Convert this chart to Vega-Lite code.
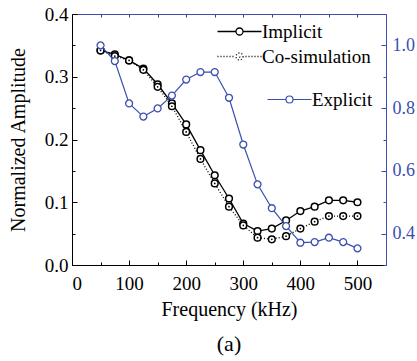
{
  "$schema": "https://vega.github.io/schema/vega-lite/v6.json",
  "width": 314,
  "height": 251,
  "autosize": {"type": "none"},
  "padding": {"left": 72, "top": 14, "right": 31, "bottom": 96},
  "background": "white",
  "config": {
    "view": {"stroke": null},
    "font": "Liberation Serif",
    "axis": {"grid": false, "labelFont": "Liberation Serif", "titleFont": "Liberation Serif"},
    "style": {"guide-label": {"font": "Liberation Serif"}, "guide-title": {"font": "Liberation Serif"}}
  },
  "title": {"text": "(a)", "orient": "bottom", "font": "Liberation Serif", "fontSize": 22, "fontWeight": "normal", "color": "black", "offset": 15},
  "datasets": {
    "d": [
      {"f": 50, "series": "Implicit", "v": 0.342},
      {"f": 75, "series": "Implicit", "v": 0.3355},
      {"f": 100, "series": "Implicit", "v": 0.326},
      {"f": 125, "series": "Implicit", "v": 0.313},
      {"f": 150, "series": "Implicit", "v": 0.288},
      {"f": 175, "series": "Implicit", "v": 0.2575},
      {"f": 200, "series": "Implicit", "v": 0.224},
      {"f": 225, "series": "Implicit", "v": 0.183},
      {"f": 250, "series": "Implicit", "v": 0.143},
      {"f": 275, "series": "Implicit", "v": 0.106},
      {"f": 300, "series": "Implicit", "v": 0.066},
      {"f": 325, "series": "Implicit", "v": 0.054},
      {"f": 350, "series": "Implicit", "v": 0.058},
      {"f": 375, "series": "Implicit", "v": 0.071},
      {"f": 400, "series": "Implicit", "v": 0.086},
      {"f": 425, "series": "Implicit", "v": 0.093},
      {"f": 450, "series": "Implicit", "v": 0.103},
      {"f": 475, "series": "Implicit", "v": 0.103},
      {"f": 500, "series": "Implicit", "v": 0.1},
      {"f": 50, "series": "Co-simulation", "v": 0.342},
      {"f": 75, "series": "Co-simulation", "v": 0.333},
      {"f": 100, "series": "Co-simulation", "v": 0.326},
      {"f": 125, "series": "Co-simulation", "v": 0.311},
      {"f": 150, "series": "Co-simulation", "v": 0.284},
      {"f": 175, "series": "Co-simulation", "v": 0.253},
      {"f": 200, "series": "Co-simulation", "v": 0.212},
      {"f": 225, "series": "Co-simulation", "v": 0.169},
      {"f": 250, "series": "Co-simulation", "v": 0.13},
      {"f": 275, "series": "Co-simulation", "v": 0.093},
      {"f": 300, "series": "Co-simulation", "v": 0.063},
      {"f": 325, "series": "Co-simulation", "v": 0.0436},
      {"f": 350, "series": "Co-simulation", "v": 0.041},
      {"f": 375, "series": "Co-simulation", "v": 0.046},
      {"f": 400, "series": "Co-simulation", "v": 0.058},
      {"f": 425, "series": "Co-simulation", "v": 0.069},
      {"f": 450, "series": "Co-simulation", "v": 0.078},
      {"f": 475, "series": "Co-simulation", "v": 0.078},
      {"f": 500, "series": "Co-simulation", "v": 0.078}
    ],
    "e": [
      {"f": 50, "series": "Explicit", "v": 1.0},
      {"f": 75, "series": "Explicit", "v": 0.95},
      {"f": 100, "series": "Explicit", "v": 0.815},
      {"f": 125, "series": "Explicit", "v": 0.773},
      {"f": 150, "series": "Explicit", "v": 0.799},
      {"f": 175, "series": "Explicit", "v": 0.84},
      {"f": 200, "series": "Explicit", "v": 0.891},
      {"f": 225, "series": "Explicit", "v": 0.915},
      {"f": 250, "series": "Explicit", "v": 0.915},
      {"f": 275, "series": "Explicit", "v": 0.833},
      {"f": 300, "series": "Explicit", "v": 0.684},
      {"f": 325, "series": "Explicit", "v": 0.557},
      {"f": 350, "series": "Explicit", "v": 0.481},
      {"f": 375, "series": "Explicit", "v": 0.424},
      {"f": 400, "series": "Explicit", "v": 0.371},
      {"f": 425, "series": "Explicit", "v": 0.373},
      {"f": 450, "series": "Explicit", "v": 0.387},
      {"f": 475, "series": "Explicit", "v": 0.373},
      {"f": 500, "series": "Explicit", "v": 0.353}
    ]
  },
  "layer": [
    {
      "data": {"name": "d"},
      "encoding": {
        "x": {
          "field": "f", "type": "quantitative",
          "scale": {"domain": [0, 550], "nice": false, "zero": false},
          "axis": {
            "orient": "bottom",
            "values": [0, 50, 100, 150, 200, 250, 300, 350, 400, 450, 500],
            "labelExpr": "datum.value % 100 === 0 ? datum.label : ''",
            "tickSize": {"condition": {"test": "datum.value % 100 === 0", "value": -5}, "value": -3},
            "labelPadding": 14,
            "labelFont": "Liberation Serif",
            "labelFontSize": 19,
            "labelColor": "black",
            "tickColor": "black",
            "domainColor": "black",
            "title": "Frequency (kHz)",
            "titleFont": "Liberation Serif",
            "titleFontWeight": "normal",
            "titleFontSize": 20,
            "titleColor": "black",
            "titlePadding": 6
          }
        },
        "y": {
          "field": "v", "type": "quantitative",
          "scale": {"domain": [0, 0.4], "nice": false, "zero": false},
          "axis": {
            "orient": "left",
            "values": [0, 0.05, 0.1, 0.15, 0.2, 0.25, 0.3, 0.35, 0.4],
            "labelExpr": "abs(round(datum.value * 10) - datum.value * 10) < 0.001 ? format(datum.value, '.1f') : ''",
            "tickSize": {"condition": {"test": "abs(round(datum.value * 10) - datum.value * 10) < 0.001", "value": -5}, "value": -3},
            "labelPadding": 9,
            "labelFont": "Liberation Serif",
            "labelFontSize": 19,
            "labelColor": "black",
            "tickColor": "black",
            "domainColor": "black",
            "title": "Normalized Amplitude",
            "titleFont": "Liberation Serif",
            "titleFontWeight": "normal",
            "titleFontSize": 20,
            "titleColor": "black",
            "titlePadding": 16
          }
        }
      },
      "layer": [
        {
          "transform": [{"filter": "datum.series === 'Implicit'"}],
          "mark": {"type": "line", "strokeWidth": 1.3},
          "encoding": {
            "stroke": {
              "field": "series", "type": "nominal",
              "scale": {"domain": ["Implicit"], "range": ["black"]},
              "legend": {
                "title": null,
                "orient": "none",
                "legendX": 141,
                "legendY": 8,
                "symbolSize": 100,
                "symbolOffset": 17,
                "labelOffset": 13,
                "labelFont": "Liberation Serif",
                "labelFontSize": 19,
                "labelColor": "black",
                "symbolFillColor": "white",
                "symbolStrokeWidth": 1.3,
                "symbolType": "M-4.4,0H-0.7M0.7,0H4.4M0.7,0A0.7,0.7,0,1,1,-0.7,0A0.7,0.7,0,1,1,0.7,0"
              }
            }
          }
        },
        {
          "transform": [{"filter": "datum.series === 'Co-simulation'"}],
          "mark": {"type": "line", "color": "black", "strokeWidth": 1.3},
          "encoding": {
            "strokeDash": {
              "field": "series", "type": "nominal",
              "scale": {"domain": ["Co-simulation"], "range": [[1, 2]]},
              "legend": {
                "title": null,
                "orient": "none",
                "legendX": 141,
                "legendY": 33,
                "symbolSize": 100,
                "symbolOffset": 17,
                "labelOffset": 13,
                "labelFont": "Liberation Serif",
                "labelFontSize": 19,
                "labelColor": "black",
                "symbolStrokeColor": "black",
                "symbolFillColor": "white",
                "symbolStrokeWidth": 1.3,
                "symbolType": "M-4.4,0h0.2M-3.8,0h0.2M-3.2,0h0.2M-2.6,0h0.2M-2.0,0h0.2M-1.4,0h0.2M1.2,0h0.2M1.8,0h0.2M2.4,0h0.2M3.0,0h0.2M3.6,0h0.2M4.2,0h0.2M0.7,0A0.7,0.7,0,1,1,-0.7,0A0.7,0.7,0,1,1,0.7,0M0.1,0A0.1,0.1,0,1,1,-0.1,0A0.1,0.1,0,1,1,0.1,0",
                "encode": {"symbols": {"update": {"strokeDash": {"value": [1, 0]}}}}
              }
            }
          }
        },
        {
          "mark": {"type": "point", "shape": "circle", "filled": false, "fill": "white", "fillOpacity": 1, "stroke": "black", "strokeWidth": 1.5, "size": 45, "opacity": 1}
        },
        {
          "transform": [{"filter": "datum.series === 'Co-simulation'"}],
          "mark": {"type": "point", "shape": "circle", "filled": true, "color": "black", "size": 3, "opacity": 1}
        }
      ]
    },
    {
      "data": {"name": "e"},
      "encoding": {
        "x": {
          "field": "f", "type": "quantitative",
          "scale": {"domain": [0, 550], "nice": false, "zero": false},
          "axis": {
            "orient": "top",
            "values": [50, 100, 150, 200, 250, 300, 350, 400, 450, 500],
            "labels": false,
            "title": null,
            "tickSize": -3,
            "tickColor": "#444444",
            "domainColor": "#3a4fb0"
          }
        },
        "y": {
          "field": "v", "type": "quantitative",
          "scale": {"domain": [0.3, 1.1], "nice": false, "zero": false},
          "axis": {
            "orient": "right",
            "values": [0.3, 0.4, 0.5, 0.6, 0.7, 0.8, 0.9, 1.0, 1.1],
            "labelExpr": "indexof(['0.4','0.6','0.8','1.0'], format(datum.value, '.1f')) >= 0 ? format(datum.value, '.1f') : ''",
            "tickSize": {"condition": {"test": "indexof(['0.4','0.6','0.8','1.0'], format(datum.value, '.1f')) >= 0", "value": -5}, "value": -3},
            "labelPadding": 11,
            "labelFont": "Liberation Serif",
            "labelFontSize": 18,
            "labelColor": "#3a4fb0",
            "tickColor": "#3a4fb0",
            "domainColor": "#3a4fb0",
            "title": null
          }
        }
      },
      "layer": [
        {
          "mark": {"type": "line", "strokeWidth": 1.2},
          "encoding": {
            "color": {
              "field": "series", "type": "nominal",
              "scale": {"domain": ["Explicit"], "range": ["#3a4fb0"]},
              "legend": {
                "title": null,
                "orient": "none",
                "legendX": 191,
                "legendY": 76,
                "symbolSize": 100,
                "symbolOffset": 17,
                "labelOffset": 13,
                "labelFont": "Liberation Serif",
                "labelFontSize": 19,
                "labelColor": "black",
                "symbolFillColor": "white",
                "symbolStrokeWidth": 1.2,
                "symbolType": "M-4.4,0H-0.7M0.7,0H4.4M0.7,0A0.7,0.7,0,1,1,-0.7,0A0.7,0.7,0,1,1,0.7,0"
              }
            }
          }
        },
        {
          "mark": {"type": "point", "shape": "circle", "filled": false, "fill": "white", "fillOpacity": 1, "stroke": "#3a4fb0", "strokeWidth": 1.3, "size": 48, "opacity": 1}
        }
      ]
    }
  ],
  "resolve": {"scale": {"y": "independent"}, "axis": {"x": "independent"}}
}
